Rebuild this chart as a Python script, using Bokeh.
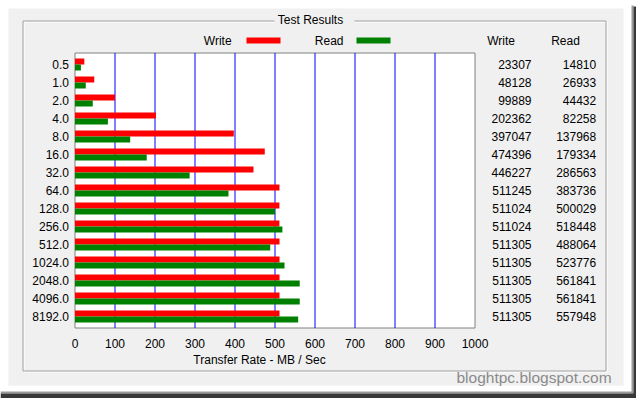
from bokeh.plotting import figure
from bokeh.models import ColumnDataSource, Range1d, FixedTicker
from bokeh.core.properties import value
from bokeh.transform import dodge
from bokeh.embed import file_html
from bokeh.resources import INLINE

# ---------------- data ----------------
categories = ["0.5", "1.0", "2.0", "4.0", "8.0", "16.0", "32.0", "64.0",
              "128.0", "256.0", "512.0", "1024.0", "2048.0", "4096.0", "8192.0"]
write_kb = [23307, 48128, 99889, 202362, 397047, 474396, 446227, 511245,
            511024, 511024, 511305, 511305, 511305, 511305, 511305]
read_kb = [14810, 26933, 44432, 82258, 137968, 179334, 286563, 383736,
           500029, 518448, 488064, 523776, 561841, 561841, 557948]
x_ticks = [0, 100, 200, 300, 400, 500, 600, 700, 800, 900, 1000]
grid_ticks = [100, 200, 300, 400, 500, 600, 700, 800, 900]
series_names = ["Write", "Read"]
series_colors = ["#ff0000", "#008000"]
title_text = "Test Results"
x_label = "Transfer Rate - MB / Sec"
watermark = "bloghtpc.blogspot.com"

FONT = "Liberation Sans"
W, H = 636, 398

# layout geometry (pixels inside the figure)
X0_PX, PX_PER_MB = 74.5, 0.4          # x = 0 MB/s position, scale
ROW0_PX, PX_PER_ROW = 64.0, 18.0      # centre of first row, row pitch
PLOT_TOP_PX, PLOT_BOTTOM_PX = 52.5, 327.5

plot_top = (PLOT_TOP_PX - ROW0_PX) / PX_PER_ROW
plot_bottom = (PLOT_BOTTOM_PX - ROW0_PX) / PX_PER_ROW

ys = list(range(len(categories)))
source = ColumnDataSource(dict(
    y=ys,
    write=[v / 1000 for v in write_kb],
    read=[v / 1000 for v in read_kb],
    write_txt=[str(v) for v in write_kb],
    read_txt=[str(v) for v in read_kb],
))

p = figure(width=W, height=H,
           x_range=Range1d(-X0_PX / PX_PER_MB, (W - X0_PX) / PX_PER_MB),
           y_range=Range1d((H - ROW0_PX) / PX_PER_ROW, -ROW0_PX / PX_PER_ROW),
           output_backend="svg", toolbar_location=None,
           min_border=0, min_border_left=0, min_border_right=0,
           min_border_top=0, min_border_bottom=0,
           border_fill_color="white", background_fill_color="white",
           outline_line_color=None)
p.extra_x_ranges = {"px": Range1d(0, W)}
p.extra_y_ranges = {"px": Range1d(H, 0)}
p.xgrid.visible = False
p.ygrid.visible = False


def ptext(txt, x, y, align="left", size="12px", color="black"):
    p.text(x=[x], y=[y], text=[txt], x_range_name="px", y_range_name="px",
           text_align=align, text_baseline="middle", text_font=value(FONT),
           text_font_size=size, text_color=color)


def pbox(l, r, t, b, fill=None, line=None):
    p.quad(left=[l], right=[r], top=[t], bottom=[b], x_range_name="px",
           y_range_name="px", fill_color=fill, line_color=line, line_width=1)


# window panel and drop shadow
pbox(8, 623, 8, 385, fill="#f0f0f0")
pbox(631, 633, 5, 398, fill="#9a9a9a")
pbox(0, 633, 391, 393, fill="#9a9a9a")
pbox(633, 636, 6, 398, fill="#383838")
pbox(0, 636, 393, 398, fill="#383838")

# group box (etched) and title
pbox(23.5, 606.5, 21.5, 371.5, line="white")
pbox(22.5, 605.5, 20.5, 370.5, line="#a0a0a0")
pbox(274, 354, 13, 28, fill="#f0f0f0")
ptext(title_text, 277.3, 19.5)

# plot area
p.quad(left=[x_ticks[0]], right=[x_ticks[-1]], top=[plot_top], bottom=[plot_bottom],
       fill_color="white", line_color="#808080", line_width=1)
p.segment(x0=grid_ticks, x1=grid_ticks, y0=plot_top, y1=plot_bottom,
          line_color="#0000ff", line_width=1)

# bars
p.hbar(y=dodge("y", -1 / 6), left=0, right="write", height=1 / 3,
       source=source, fill_color=series_colors[0], line_color=None)
p.hbar(y=dodge("y", 1 / 6), left=0, right="read", height=1 / 3,
       source=source, fill_color=series_colors[1], line_color=None)

# axes fixed to the plot area edges
p.xaxis.ticker = FixedTicker(ticks=x_ticks)
p.xaxis.fixed_location = plot_bottom
p.yaxis.ticker = FixedTicker(ticks=ys)
p.yaxis.major_label_overrides = {i: c for i, c in enumerate(categories)}
p.yaxis.fixed_location = 0
for ax in (p.xaxis[0], p.yaxis[0]):
    ax.axis_line_color = None
    ax.major_tick_line_color = None
    ax.minor_tick_line_color = None
    ax.major_tick_out = 0
    ax.major_tick_in = 0
    ax.major_label_text_font = FONT
    ax.major_label_text_font_size = "12px"
    ax.major_label_text_color = "black"
p.xaxis.major_label_standoff = 11
p.yaxis.major_label_standoff = 6

# legend
legend_text_x = [203.3, 314.3]
swatch_left = [246, 356]
for name, color, tx, sl in zip(series_names, series_colors, legend_text_x, swatch_left):
    ptext(name, tx, 40)
    pbox(sl, sl + 34, 37, 43, fill=color)

# table on the right
for name, hx in zip(series_names, [486.7, 550.7]):
    ptext(name, hx, 40)
for col, cx in zip(["write_txt", "read_txt"], [531, 595.7]):
    p.text(x=cx, y="y", text=col, source=source, x_range_name="px",
           text_align="right", text_baseline="middle", text_font=value(FONT),
           text_font_size="12px", text_color="black")

# axis title and watermark
ptext(x_label, 259, 359.8, align="center")
ptext(watermark, 456, 377, size="15.5px", color="#8a8a8a")

open("out.html", "w").write(file_html(p, INLINE))
